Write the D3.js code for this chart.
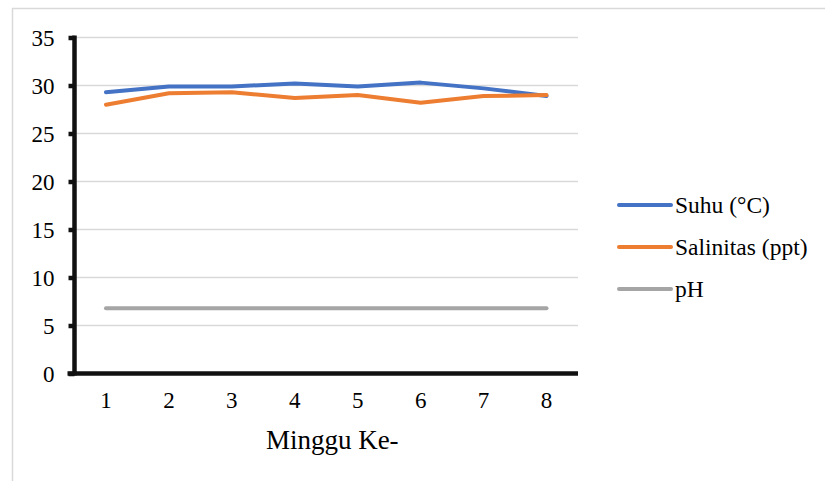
<!DOCTYPE html>
<html>
<head>
<meta charset="utf-8">
<script src="https://cdn.jsdelivr.net/npm/d3@7"></script>
<style>
  html, body { margin: 0; padding: 0; background: #fff; }
  svg { display: block; }
  svg text { font-family: "Liberation Serif", "Times New Roman", Times, Tinos, "DejaVu Serif", "Noto Serif", serif !important; fill: #000; }
</style>
</head>
<body>
<svg id="chart" width="825" height="481"></svg>
<script>
const weeks = ["1", "2", "3", "4", "5", "6", "7", "8"];
const suhu = [29.3, 29.9, 29.9, 30.2, 29.9, 30.3, 29.7, 28.9];
const salinitas = [28.0, 29.2, 29.3, 28.7, 29.0, 28.2, 28.9, 29.0];
const ph = [6.8, 6.8, 6.8, 6.8, 6.8, 6.8, 6.8, 6.8];
const seriesNames = ["Suhu (°C)", "Salinitas (ppt)", "pH"];
const seriesColors = ["#4472C4", "#ED7D31", "#A5A5A5"];
const yTicks = [0, 5, 10, 15, 20, 25, 30, 35];
const xTitle = "Minggu Ke-";

const series = [suhu, salinitas, ph];

const svg = d3.select("#chart");

// chart border
svg.append("rect")
  .attr("x", 12.5).attr("y", 8.5)
  .attr("width", 830).attr("height", 490)
  .attr("fill", "none").attr("stroke", "#d9d9d9").attr("stroke-width", 1.5);

const plot = { left: 74.5, right: 578, top: 37.5, bottom: 373.5 };

const x = d3.scaleBand().domain(weeks).range([plot.left, plot.right]);
const y = d3.scaleLinear().domain([0, 35]).range([plot.bottom, plot.top]);

// gridlines
svg.append("g")
  .selectAll("line")
  .data(yTicks.filter(d => d > 0))
  .join("line")
  .attr("x1", plot.left).attr("x2", plot.right)
  .attr("y1", d => y(d)).attr("y2", d => y(d))
  .attr("stroke", "#d9d9d9").attr("stroke-width", 1.6);

// y axis
const yAxis = svg.append("g")
  .attr("transform", `translate(${plot.left},0)`)
  .call(d3.axisLeft(y).tickValues(yTicks).tickSize(6).tickPadding(14));
yAxis.attr("font-family", null).attr("font-size", null);
yAxis.select(".domain").attr("stroke", "#111").attr("stroke-width", 4.5)
  .attr("d", `M0,${plot.top - 2}V${plot.bottom + 2}`);
yAxis.selectAll(".tick line").attr("stroke", "#111").attr("stroke-width", 4.5);
yAxis.selectAll(".tick text").style("font-size", "23px").attr("dy", "0.35em");

// x axis
const xAxis = svg.append("g")
  .attr("transform", `translate(0,${plot.bottom})`)
  .call(d3.axisBottom(x).tickSize(0).tickPadding(18));
xAxis.attr("font-family", null).attr("font-size", null);
xAxis.select(".domain").attr("stroke", "#111").attr("stroke-width", 4.5)
  .attr("d", `M${plot.left - 7},0H${plot.right}`);
xAxis.selectAll(".tick text").style("font-size", "23px");

// x title
svg.append("text")
  .attr("x", (plot.left + plot.right) / 2 + 6)
  .attr("y", 449)
  .attr("text-anchor", "middle")
  .style("font-size", "27px")
  .text(xTitle);

// lines
const line = d3.line()
  .x((d, i) => x(weeks[i]) + x.bandwidth() / 2)
  .y(d => y(d));

svg.append("g")
  .selectAll("path")
  .data(series)
  .join("path")
  .attr("d", d => line(d))
  .attr("fill", "none")
  .attr("stroke", (d, i) => seriesColors[i])
  .attr("stroke-width", 4)
  .attr("stroke-linejoin", "round")
  .attr("stroke-linecap", "round");

// legend
const legendY = [205, 247, 289];
const lg = svg.append("g");
seriesNames.forEach((name, i) => {
  lg.append("line")
    .attr("x1", 619).attr("x2", 671)
    .attr("y1", legendY[i]).attr("y2", legendY[i])
    .attr("stroke", seriesColors[i]).attr("stroke-width", 4)
    .attr("stroke-linecap", "round");
  lg.append("text")
    .attr("x", 675).attr("y", legendY[i])
    .attr("dy", "0.33em")
    .style("font-size", "23.5px")
    .text(name);
});
</script>
</body>
</html>
